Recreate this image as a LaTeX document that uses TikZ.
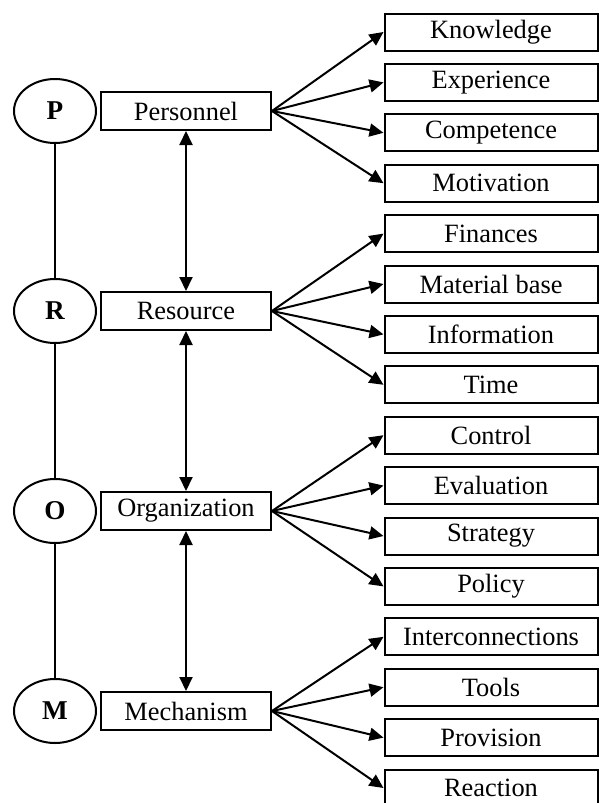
\documentclass[tikz,border=0pt]{standalone}
\usepackage{fontspec}
\setmainfont{Liberation Serif}
\usepackage{tikz}
\usetikzlibrary{shapes.geometric, arrows.meta, positioning}

\begin{document}
\begin{tikzpicture}[
    x=0.5pt, y=-0.5pt,
    node distance=5.7pt,
    every node/.style={font=\fontsize{13.2}{15}\selectfont},
    letter/.style={ellipse, draw=black, line width=1pt, minimum width=41pt, minimum height=32pt, inner sep=0pt, font=\fontsize{13.6}{15}\selectfont\bfseries},
    factor/.style={rectangle, draw=black, line width=1pt, minimum width=85pt, minimum height=19pt, inner sep=0pt},
    item/.style={rectangle, draw=black, line width=1pt, minimum width=106.5pt, minimum height=18.5pt, inner sep=0pt},
    link/.style={line width=1pt},
    arrow/.style={line width=1pt,->,>={Triangle[length=7pt,width=6.5pt]}}
]
\useasboundingbox (0,0) rectangle (599,803);

% Nodes
\node (personnel) [factor] at (186,111) {Personnel};
\node (resource) [factor, below=80pt of personnel] {Resource};
\node (organization) [factor, below=80pt of resource] {Organization};
\node (mechanism) [factor, below=80pt of organization] {Mechanism};

\node (p) [letter, left=1.5pt of personnel] {P};
\node (r) [letter, left=1.5pt of resource] {R};
\node (o) [letter, left=1.5pt of organization] {O};
\node (m) [letter, left=1.5pt of mechanism] {M};

\node (knowledge) [item] at (491,32) {Knowledge};
\node (experience) [item, below=of knowledge] {Experience};
\node (competence) [item, below=of experience] {Competence};
\node (motivation) [item, below=of competence] {Motivation};
\node (finances) [item, below=of motivation] {Finances};
\node (material) [item, below=of finances] {Material base};
\node (information) [item, below=of material] {Information};
\node (time) [item, below=of information] {Time};
\node (control) [item, below=of time] {Control};
\node (evaluation) [item, below=of control] {Evaluation};
\node (strategy) [item, below=of evaluation] {Strategy};
\node (policy) [item, below=of strategy] {Policy};
\node (interconnections) [item, below=of policy] {Interconnections};
\node (tools) [item, below=of interconnections] {Tools};
\node (provision) [item, below=of tools] {Provision};
\node (reaction) [item, below=of provision] {Reaction};

% Lines and arrows
\draw [link] (p) -- (r);
\draw [link] (r) -- (o);
\draw [link] (o) -- (m);

\draw [arrow, <->] (personnel) -- (resource);
\draw [arrow, <->] (resource) -- (organization);
\draw [arrow, <->] (organization) -- (mechanism);

\draw [arrow] (personnel.east) -- (knowledge.west);
\draw [arrow] (personnel.east) -- (experience.west);
\draw [arrow] (personnel.east) -- (competence.west);
\draw [arrow] (personnel.east) -- (motivation.west);

\draw [arrow] (resource.east) -- (finances.west);
\draw [arrow] (resource.east) -- (material.west);
\draw [arrow] (resource.east) -- (information.west);
\draw [arrow] (resource.east) -- (time.west);

\draw [arrow] (organization.east) -- (control.west);
\draw [arrow] (organization.east) -- (evaluation.west);
\draw [arrow] (organization.east) -- (strategy.west);
\draw [arrow] (organization.east) -- (policy.west);

\draw [arrow] (mechanism.east) -- (interconnections.west);
\draw [arrow] (mechanism.east) -- (tools.west);
\draw [arrow] (mechanism.east) -- (provision.west);
\draw [arrow] (mechanism.east) -- (reaction.west);

\end{tikzpicture}
\end{document}
